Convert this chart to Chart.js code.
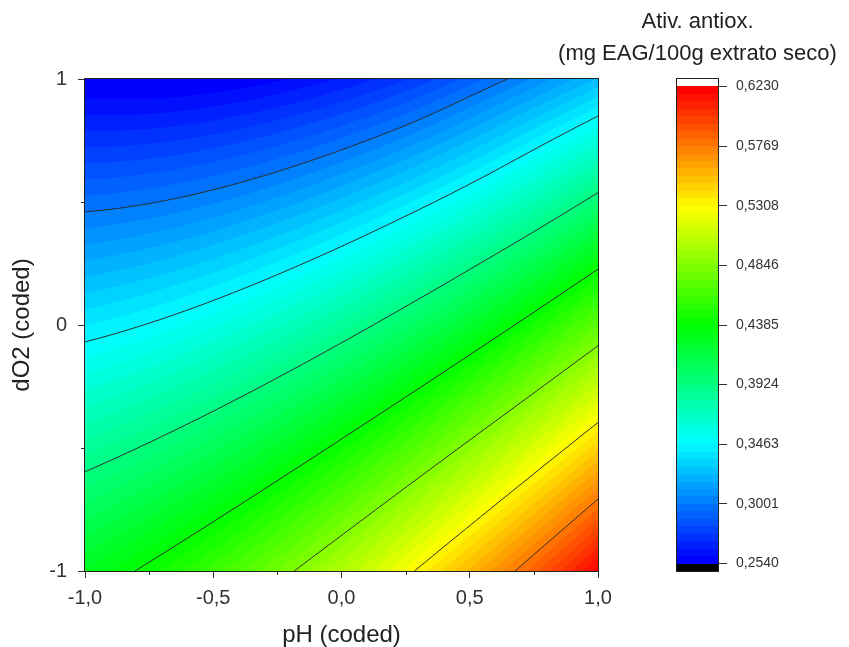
<!DOCTYPE html>
<html>
<head>
<meta charset="utf-8">
<script src="https://cdn.jsdelivr.net/npm/chart.js@4.4.0/dist/chart.umd.min.js"></script>
<style>
  body { margin: 0; background: #fff; }
  #wrap { position: relative; width: 849px; height: 647px; }
  canvas { position: absolute; top: 0; }
  #main { left: 0; }
  #bar { left: 546px; }
</style>
</head>
<body>
<div id="wrap">
  <canvas id="main" width="650" height="647"></canvas>
  <canvas id="bar" width="303" height="647"></canvas>
</div>
<script>
// Grid: pH (coded) along x, dO2 (coded) along y
const phValues = [-1, -0.75, -0.5, -0.25, 0, 0.25, 0.5, 0.75, 1];
const do2Values = [-1, -0.75, -0.5, -0.25, 0, 0.25, 0.5, 0.75, 1];
// one row per dO2 value, one column per pH value
const activity = [
    [0.4276, 0.4419, 0.4590, 0.4789, 0.5016, 0.5271, 0.5553, 0.5863, 0.6202],
    [0.4058, 0.4182, 0.4334, 0.4514, 0.4722, 0.4958, 0.5221, 0.5512, 0.5832],
    [0.3840, 0.3945, 0.4078, 0.4239, 0.4428, 0.4645, 0.4889, 0.5161, 0.5462],
    [0.3621, 0.3707, 0.3821, 0.3963, 0.4133, 0.4331, 0.4556, 0.4809, 0.5091],
    [0.3403, 0.3470, 0.3565, 0.3688, 0.3839, 0.4018, 0.4224, 0.4458, 0.4721],
    [0.3185, 0.3233, 0.3309, 0.3413, 0.3545, 0.3705, 0.3892, 0.4107, 0.4351],
    [0.2966, 0.2995, 0.3052, 0.3137, 0.3250, 0.3391, 0.3559, 0.3755, 0.3980],
    [0.2748, 0.2758, 0.2796, 0.2862, 0.2956, 0.3078, 0.3232, 0.3412, 0.3610],
    [0.2530, 0.2521, 0.2540, 0.2587, 0.2662, 0.2765, 0.2910, 0.3068, 0.3240]
];

const xTicks = [-1, -0.5, 0, 0.5, 1];
const xMinorTicks = [-0.75, -0.25, 0.25, 0.75];
const yTicks = [-1, 0, 1];
const yMinorTicks = [-0.5, 0.5];
const colorbarTicks = [0.2540, 0.3001, 0.3463, 0.3924, 0.4385, 0.4846, 0.5308, 0.5769, 0.6230];
const contourLevels = [0.3001, 0.3463, 0.3924, 0.4385, 0.4846, 0.5308, 0.5769];
const bandCount = 64;

const cbMin = colorbarTicks[0];
const cbMax = colorbarTicks[colorbarTicks.length - 1];
const bandStep = (cbMax - cbMin) / bandCount;
const FONT = "'Liberation Sans', Arial, sans-serif";
const INK = '#333';

function rainbow(t) {
    let r, g, b;
    if (t < 0.25) { r = 0; g = t * 4; b = 1; }
    else if (t < 0.5) { r = 0; g = 1; b = 1 - (t - 0.25) * 4; }
    else if (t < 0.75) { r = (t - 0.5) * 4; g = 1; b = 0; }
    else { r = 1; g = 1 - (t - 0.75) * 4; b = 0; }
    return [Math.round(r * 255), Math.round(g * 255), Math.round(b * 255)];
}
const bandColors = [];
for (let k = 0; k < bandCount; k++) bandColors.push(rainbow(k / (bandCount - 1)));

function colorFor(v) {
    let k = Math.floor((v - cbMin) / bandStep);
    if (k < 0) k = 0;
    if (k > bandCount - 1) k = bandCount - 1;
    return bandColors[k];
}

// pad the grid with one extra node on each side so the smooth shading has neighbours at the edges
function padRow(r) {
    const n = r.length;
    return [3 * r[0] - 3 * r[1] + r[2], ...r, 3 * r[n - 1] - 3 * r[n - 2] + r[n - 3]];
}
const padded = (() => {
    const rows = activity.map(padRow);
    const n = rows.length;
    const first = rows[0].map((_, i) => 3 * rows[0][i] - 3 * rows[1][i] + rows[2][i]);
    const last = rows[0].map((_, i) => 3 * rows[n - 1][i] - 3 * rows[n - 2][i] + rows[n - 3][i]);
    return [first, ...rows, last];
})();

function findCell(arr, v) {
    let i = 0;
    while (i < arr.length - 2 && v > arr[i + 1]) i++;
    const t = (v - arr[i]) / (arr[i + 1] - arr[i]);
    return [i, Math.min(1, Math.max(0, t))];
}

function cr(p0, p1, p2, p3, t) {
    return 0.5 * (2 * p1 + (p2 - p0) * t + (2 * p0 - 5 * p1 + 4 * p2 - p3) * t * t + (3 * p1 - p0 - 3 * p2 + p3) * t * t * t);
}

// smooth value between grid nodes, for shading only
function valueAt(ph, d) {
    const [i, t] = findCell(phValues, ph);
    const [j, u] = findCell(do2Values, d);
    const col = [];
    for (let k = 0; k < 4; k++) {
        const r = padded[j + k];
        col.push(cr(r[i], r[i + 1], r[i + 2], r[i + 3], t));
    }
    return cr(col[0], col[1], col[2], col[3], u);
}

const points = [];
do2Values.forEach((d, j) => phValues.forEach((p, i) => points.push({ x: p, y: d, v: activity[j][i] })));

const fieldPlugin = {
    id: 'field',
    beforeDraw(chart) {
        const { ctx, chartArea: a, scales: { x, y } } = chart;
        const w = Math.round(a.right - a.left), h = Math.round(a.bottom - a.top);
        const off = document.createElement('canvas');
        off.width = w; off.height = h;
        const octx = off.getContext('2d');
        const img = octx.createImageData(w, h);
        for (let j = 0; j < h; j++) {
            const d = y.getValueForPixel(a.top + j + 0.5);
            for (let i = 0; i < w; i++) {
                const p = x.getValueForPixel(a.left + i + 0.5);
                const c = colorFor(valueAt(p, d));
                const o = (j * w + i) * 4;
                img.data[o] = c[0]; img.data[o + 1] = c[1]; img.data[o + 2] = c[2]; img.data[o + 3] = 255;
            }
        }
        octx.putImageData(img, 0, 0);
        ctx.save();
        ctx.imageSmoothingEnabled = false;
        ctx.drawImage(off, a.left, a.top);

        // contour lines, marching squares on a fine sampling of the field
        const s = 2;
        const nx = Math.ceil(w / s) + 1, ny = Math.ceil(h / s) + 1;
        const px = [], py = [], grid = [];
        for (let i = 0; i < nx; i++) px.push(Math.min(a.left + i * s, a.right));
        for (let j = 0; j < ny; j++) py.push(Math.min(a.top + j * s, a.bottom));
        for (let j = 0; j < ny; j++) {
            const row = [];
            const d = y.getValueForPixel(py[j]);
            for (let i = 0; i < nx; i++) row.push(valueAt(x.getValueForPixel(px[i]), d));
            grid.push(row);
        }
        ctx.beginPath();
        ctx.rect(a.left, a.top, w, h);
        ctx.clip();
        ctx.strokeStyle = '#2e2e2e';
        ctx.lineWidth = 1;
        ctx.beginPath();
        contourLevels.forEach(L => {
            for (let j = 0; j < ny - 1; j++) {
                for (let i = 0; i < nx - 1; i++) {
                    const c = [
                        [px[i], py[j], grid[j][i]],
                        [px[i + 1], py[j], grid[j][i + 1]],
                        [px[i + 1], py[j + 1], grid[j + 1][i + 1]],
                        [px[i], py[j + 1], grid[j + 1][i]]
                    ];
                    const hits = [];
                    for (let k = 0; k < 4; k++) {
                        const A = c[k], B = c[(k + 1) % 4];
                        if ((A[2] - L) * (B[2] - L) < 0) {
                            const t = (L - A[2]) / (B[2] - A[2]);
                            hits.push([A[0] + (B[0] - A[0]) * t, A[1] + (B[1] - A[1]) * t]);
                        }
                    }
                    for (let k = 0; k + 1 < hits.length; k += 2) {
                        ctx.moveTo(hits[k][0], hits[k][1]);
                        ctx.lineTo(hits[k + 1][0], hits[k + 1][1]);
                    }
                }
            }
        });
        ctx.stroke();
        ctx.restore();
    },
    afterDraw(chart) {
        const { ctx, chartArea: a, scales: { x, y } } = chart;
        ctx.save();
        ctx.strokeStyle = INK;
        ctx.lineWidth = 1;
        ctx.beginPath();
        xMinorTicks.forEach(v => {
            const p = Math.round(x.getPixelForValue(v)) + 0.5;
            ctx.moveTo(p, a.bottom); ctx.lineTo(p, a.bottom + 4);
        });
        yMinorTicks.forEach(v => {
            const p = Math.round(y.getPixelForValue(v)) + 0.5;
            ctx.moveTo(a.left, p); ctx.lineTo(a.left - 4, p);
        });
        ctx.stroke();
        ctx.strokeStyle = '#222';
        ctx.strokeRect(Math.round(a.left) - 0.5, Math.round(a.top) - 0.5,
            Math.round(a.right - a.left) + 1, Math.round(a.bottom - a.top) + 1);
        ctx.restore();
    }
};

new Chart(document.getElementById('main'), {
    type: 'scatter',
    data: { datasets: [{ data: points, pointRadius: 0, pointHoverRadius: 0 }] },
    options: {
        responsive: false,
        animation: false,
        layout: { padding: { left: 0, top: 79, right: 52, bottom: 0 } },
        plugins: { legend: { display: false }, tooltip: { enabled: false } },
        scales: {
            x: {
                type: 'linear', min: -1, max: 1,
                afterBuildTicks: s => { s.ticks = xTicks.map(v => ({ value: v })); },
                afterFit: s => { s.height = 76; },
                ticks: {
                    padding: 8, color: INK, font: { family: FONT, size: 20 },
                    callback: v => Number(v).toFixed(1).replace('.', ',')
                },
                grid: { drawOnChartArea: false, drawTicks: true, tickLength: 7, color: INK },
                border: { display: false },
                title: {
                    display: true, text: 'pH (coded)', color: '#222',
                    font: { family: FONT, size: 24, lineHeight: 1 }, padding: { top: 0, bottom: 0 }
                }
            },
            y: {
                type: 'linear', min: -1, max: 1,
                afterBuildTicks: s => { s.ticks = yTicks.map(v => ({ value: v })); },
                afterFit: s => { s.width = 85; },
                ticks: {
                    padding: 11, color: INK, font: { family: FONT, size: 20 },
                    callback: v => String(v)
                },
                grid: { drawOnChartArea: false, drawTicks: true, tickLength: 7, color: INK },
                border: { display: false },
                title: {
                    display: true, text: 'dO2 (coded)', color: '#222',
                    font: { family: FONT, size: 24, lineHeight: 1 }, padding: { top: 10, bottom: 0 }
                }
            }
        }
    },
    plugins: [fieldPlugin]
});

const colorbarPlugin = {
    id: 'colorbar',
    beforeDraw(chart) {
        const { ctx, chartArea: a, scales: { y } } = chart;
        ctx.save();
        const fill = (lo, hi, col) => {
            const y1 = Math.round(y.getPixelForValue(hi));
            const y2 = Math.round(y.getPixelForValue(lo));
            ctx.fillStyle = col;
            ctx.fillRect(a.left, y1, a.right - a.left, y2 - y1);
        };
        fill(cbMax, y.max, '#ffffff');
        fill(y.min, cbMin, '#000000');
        for (let k = 0; k < bandCount; k++) {
            const c = bandColors[k];
            fill(cbMin + k * bandStep, cbMin + (k + 1) * bandStep, `rgb(${c[0]},${c[1]},${c[2]})`);
        }
        ctx.restore();
    },
    afterDraw(chart) {
        const { ctx, chartArea: a } = chart;
        ctx.save();
        ctx.strokeStyle = '#222';
        ctx.lineWidth = 1;
        ctx.strokeRect(Math.round(a.left) - 0.5, Math.round(a.top) - 0.5,
            Math.round(a.right - a.left) + 1, Math.round(a.bottom - a.top) + 1);
        ctx.restore();
    }
};

new Chart(document.getElementById('bar'), {
    type: 'scatter',
    data: { datasets: [{ data: [], pointRadius: 0 }] },
    options: {
        responsive: false,
        animation: false,
        layout: { padding: { left: 0, top: 0, right: 0, bottom: 76 } },
        plugins: {
            legend: { display: false },
            tooltip: { enabled: false },
            title: {
                display: true,
                text: ['Ativ. antiox.', '(mg EAG/100g extrato seco)'],
                color: '#222',
                font: { family: FONT, size: 22, weight: 'normal', lineHeight: 32 / 22 },
                padding: { top: 6, bottom: 9 }
            }
        },
        scales: {
            x: { type: 'linear', display: false, min: 0, max: 1 },
            yl: {
                type: 'linear', position: 'left', display: true,
                afterFit: s => { s.width = 131; },
                ticks: { display: false },
                grid: { display: false },
                border: { display: false }
            },
            y: {
                type: 'linear', position: 'right',
                min: cbMin - bandStep, max: cbMax + bandStep,
                afterBuildTicks: s => { s.ticks = colorbarTicks.map(v => ({ value: v })); },
                afterFit: s => { s.width = 131; },
                ticks: {
                    padding: 9, color: INK, font: { family: FONT, size: 14 },
                    callback: v => Number(v).toFixed(4).replace('.', ',')
                },
                grid: { drawOnChartArea: false, drawTicks: true, tickLength: 9, color: INK },
                border: { display: false }
            }
        }
    },
    plugins: [colorbarPlugin]
});
</script>
</body>
</html>
